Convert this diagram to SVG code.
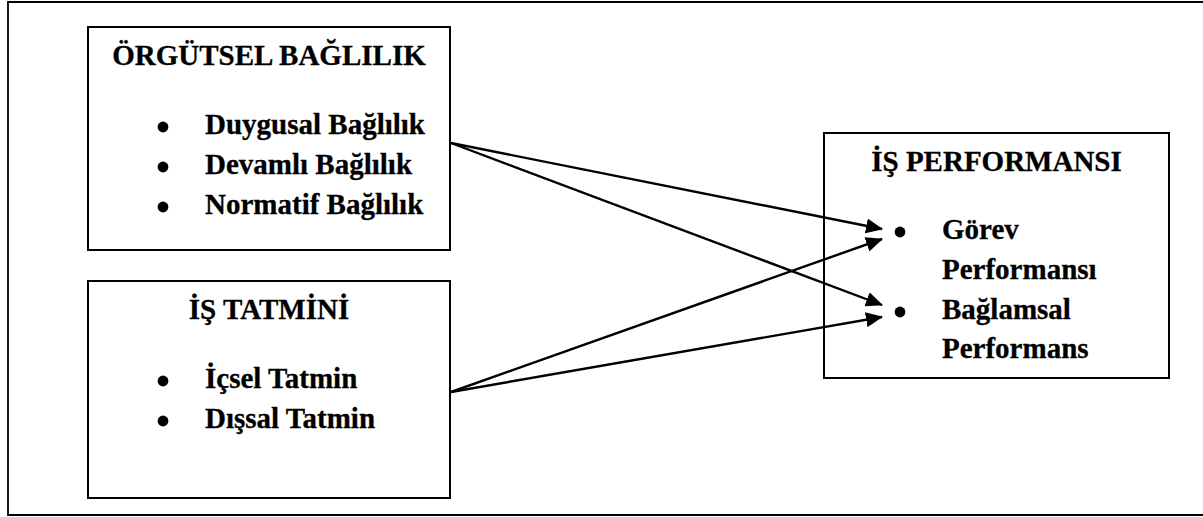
<svg xmlns="http://www.w3.org/2000/svg" width="1203" height="517" viewBox="0 0 1203 517">
  <style>
    .frame { fill: none; stroke: #000; stroke-width: 1.8; }
    .box { fill: #fff; stroke: #000; stroke-width: 2; }
    .t { font-family: "Liberation Serif", "Times New Roman", serif; font-weight: bold; font-size: 29px; fill: #000; stroke: #000; stroke-width: 0.3; }
    .mid { text-anchor: middle; }
    .dot { fill: #000; }
    .link { stroke: #000; stroke-width: 2.4; fill: none; marker-end: url(#arrow); }
  </style>
  <defs>
    <marker id="arrow" markerUnits="userSpaceOnUse" markerWidth="17" markerHeight="15" refX="16" refY="7.5" orient="auto">
      <path d="M0,0 L17,7.5 L0,15 z" fill="#000"/>
    </marker>
  </defs>

  <rect width="1203" height="517" fill="#fff"/>
  <!-- page frame, open on the right -->
  <path class="frame" d="M1203,2 H8 V515 H1203"/>

  <g id="orgutsel-baglilik">
    <rect class="box" x="88" y="27" width="362" height="223"/>
    <text class="t mid" x="269" y="65">ÖRGÜTSEL BAĞLILIK</text>
    <circle class="dot" cx="163" cy="127" r="5.4"/>
    <text class="t" x="205" y="134">Duygusal Bağlılık</text>
    <circle class="dot" cx="163" cy="167" r="5.4"/>
    <text class="t" x="205" y="174">Devamlı Bağlılık</text>
    <circle class="dot" cx="163" cy="207" r="5.4"/>
    <text class="t" x="205" y="214">Normatif Bağlılık</text>
  </g>

  <g id="is-tatmini">
    <rect class="box" x="88" y="281" width="362" height="217"/>
    <text class="t mid" x="269" y="319">İŞ TATMİNİ</text>
    <circle class="dot" cx="163" cy="381" r="5.4"/>
    <text class="t" x="205" y="388">İçsel Tatmin</text>
    <circle class="dot" cx="163" cy="421" r="5.4"/>
    <text class="t" x="205" y="428">Dışsal Tatmin</text>
  </g>

  <g id="is-performansi">
    <rect class="box" x="824" y="133" width="345" height="245"/>
    <text class="t mid" x="996.5" y="171">İŞ PERFORMANSI</text>
    <circle class="dot" cx="900" cy="232" r="5.4"/>
    <text class="t" x="942" y="239">Görev</text>
    <text class="t" x="942" y="279">Performansı</text>
    <circle class="dot" cx="900" cy="312" r="5.4"/>
    <text class="t" x="942" y="319">Bağlamsal</text>
    <text class="t" x="942" y="358">Performans</text>
  </g>

  <g id="connectors">
    <line class="link" x1="451" y1="143" x2="882" y2="229"/>
    <line class="link" x1="451" y1="143" x2="882" y2="305"/>
    <line class="link" x1="451" y1="392" x2="882" y2="239"/>
    <line class="link" x1="451" y1="392" x2="882" y2="317"/>
  </g>
</svg>
